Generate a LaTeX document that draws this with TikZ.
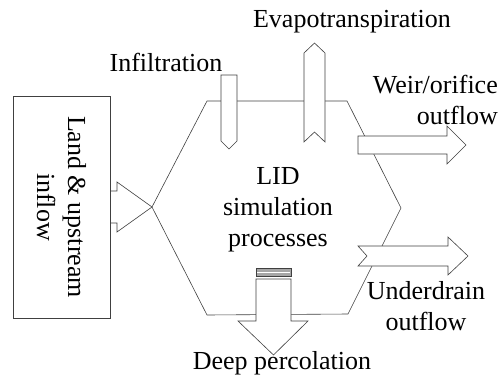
\documentclass[tikz,border=0pt]{standalone}
\usepackage{fontspec}
\setmainfont{Liberation Serif}
\usetikzlibrary{positioning}

\begin{document}
\begin{tikzpicture}[
    x=1pt, y=-1pt,
    outline/.style={draw=black!75, line width=0.6pt, line join=miter},
    blockarrow/.style={outline, fill=white},
    proctext/.style={font=\fontsize{26}{31}\selectfont, inner sep=0pt, align=center}
]
    \useasboundingbox (0,0) rectangle (499,376);

    % hexagon corners
    \coordinate (hw) at (152,207);
    \coordinate (hnw) at (207,101);
    \coordinate (hne) at (347,101);
    \coordinate (he) at (401,208);
    \coordinate (hse) at (348,314);
    \coordinate (hsw) at (207,315);

    % land box and its inflow arrow
    \node[outline, rotate=-90, minimum width=222pt, minimum height=97pt, proctext] (land) at (61.5,207) {Land \& upstream\\inflow};
    \draw[outline] (110,191) -- (117,191) -- (117,182) -- (hw) -- (117,232) -- (117,223) -- (110,223);

    % process hexagon
    \draw[outline] (hw) -- (hnw) -- (hne) -- (he) -- (hse) -- (hsw) -- cycle;
    \node[proctext] (lid) at (278,210) {LID\\simulation\\processes};

    % infiltration, down into the hexagon
    \draw[blockarrow] (221,75) -- (237,75) -- (237,141) -- (229,149) -- (221,141) -- cycle;
    \node[proctext] (infil) at (166,62) {Infiltration};

    % evapotranspiration, up out of the hexagon
    \draw[blockarrow] (304,142) -- (304,53) -- (314.5,43) -- (325,53) -- (325,142) -- (314.5,132) -- cycle;
    \node[proctext] (evap) at (352,22) {Evapotranspiration};

    % weir/orifice outflow
    \draw[blockarrow] (358,136) -- (447,136) -- (447,126) -- (466,145) -- (447,164) -- (447,154) -- (358,154) -- cycle;
    \node[proctext, align=right, anchor=east] (weir) at (498,100) {Weir/orifice\\outflow};

    % underdrain outflow
    \draw[blockarrow] (358,246) -- (448,246) -- (448,237) -- (468,256) -- (448,275) -- (448,266) -- (358,266) -- (367,256) -- cycle;
    \node[proctext] (under) at (426,306) {Underdrain\\outflow};

    % deep percolation
    \draw[outline, fill=black!35] (256,268) rectangle (291,276);
    \draw[white, line width=1pt] (257,272) -- (290,272);
    \draw[blockarrow] (256,279) -- (291,279) -- (291,321) -- (308,321) -- (273.5,355) -- (238,321) -- (256,321) -- cycle;
    \node[proctext] (deep) at (282,363.5) {Deep percolation};
\end{tikzpicture}
\end{document}
